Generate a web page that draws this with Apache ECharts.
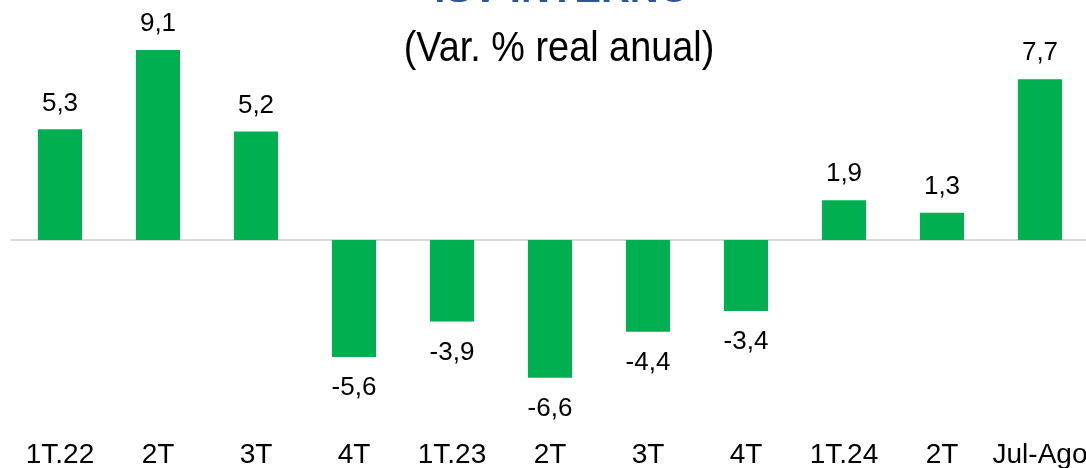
<!DOCTYPE html>
<html>
<head>
    <meta charset="utf-8">
    <script type="text/javascript" src="https://cdn.jsdelivr.net/npm/echarts@6/dist/echarts.min.js"></script>
</head>
<body style="margin: 0">
    <div id="container" style="height: 468px; width: 1086px;"></div>
    <script type="text/javascript">
    var categories = ['1T.22', '2T', '3T', '4T', '1T.23', '2T', '3T', '4T', '1T.24', '2T', 'Jul-Ago'];
    var values = [5.3, 9.1, 5.2, -5.6, -3.9, -6.6, -4.4, -3.4, 1.9, 1.3, 7.7];

    var myChart = echarts.init(document.getElementById('container'));
    var font = 'Arial, "Liberation Sans", sans-serif';

    var option = {
        animation: false,
        title: {
            text: 'ISV INTERNO',
            left: 557,
            textAlign: 'center',
            top: -34,
            textStyle: {
                fontFamily: font,
                fontSize: 40,
                fontWeight: 'bold',
                color: '#2F5597'
            }
        },
        // subtitle is a narrow face in the original, so squeeze Arial a bit
        graphic: [{
            type: 'text',
            x: 559,
            y: 49,
            scaleX: 0.88,
            style: {
                text: '(Var. % real anual)',
                font: '43px Arial, "Liberation Sans", sans-serif',
                fill: '#000',
                align: 'center',
                verticalAlign: 'middle'
            }
        }],
        grid: {
            left: 11,
            width: 1078,
            top: 240 - 10 * 20.88,
            bottom: 468 - (240 + 8 * 20.88),
            outerBoundsMode: 'none',
            containLabel: false
        },
        xAxis: {
            type: 'category',
            data: categories,
            axisTick: { show: false },
            axisLine: { lineStyle: { color: '#d9d9d9', width: 2 } },
            axisLabel: {
                interval: 0,
                fontFamily: font,
                fontSize: 28,
                color: '#000',
                margin: 34
            }
        },
        yAxis: {
            type: 'value',
            min: -8,
            max: 10,
            show: false,
            splitLine: { show: false }
        },
        series: [{
            type: 'bar',
            barWidth: '45%',
            itemStyle: { color: '#00B050' },
            label: {
                show: true,
                position: 'top',
                distance: 13,
                fontFamily: font,
                fontSize: 26,
                color: '#000',
                formatter: function (p) {
                    return String(p.value).replace('.', ',');
                }
            },
            // negative bars carry their label below the bar end
            data: values.map(function (v) {
                return v < 0 ? { value: v, label: { position: 'bottom', distance: 18 } } : v;
            })
        }]
    };

    myChart.setOption(option);
    </script>
</body>
</html>
